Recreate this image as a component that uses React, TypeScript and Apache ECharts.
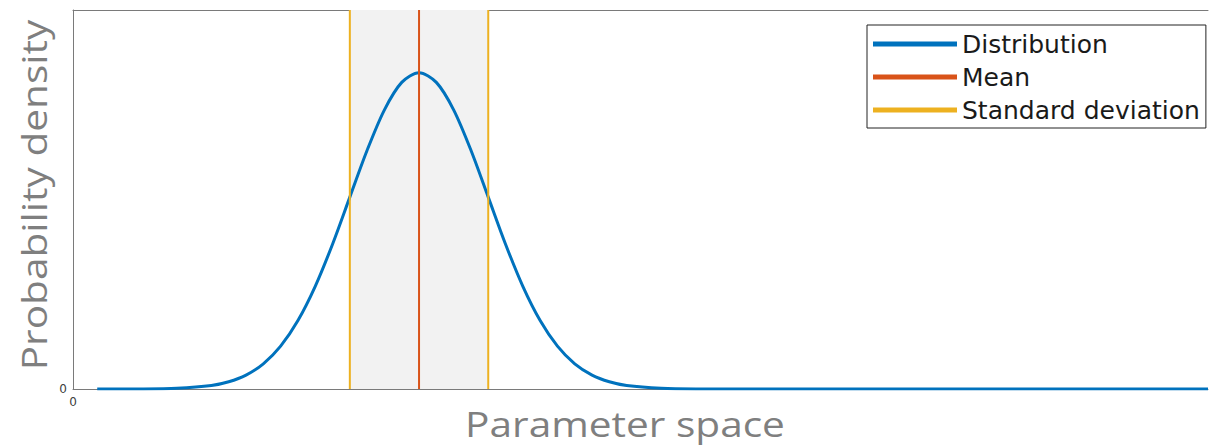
import React, { useEffect, useRef } from "react";
import * as echarts from "echarts";

// Parameter-space positions (in units of standard deviation) and the density
const distX = [0.35, 1, 1.5, 2, 2.25, 2.5, 2.75, 3, 3.25, 3.5, 3.75, 4, 4.25, 4.5, 4.75, 5,
  5.25, 5.5, 5.75, 6, 6.25, 6.5, 6.75, 7, 7.25, 7.5, 7.75, 8, 8.5, 9, 10, 12, 14, 16.4];
const distY = [0.0, 0.0001, 0.0009, 0.0044, 0.0091, 0.0175, 0.0317, 0.054, 0.0863, 0.1295, 0.1826, 0.242, 0.3011, 0.3521, 0.3867, 0.3989,
  0.3867, 0.3521, 0.3011, 0.242, 0.1826, 0.1295, 0.0863, 0.054, 0.0317, 0.0175, 0.0091, 0.0044, 0.0009, 0.0001, 0, 0, 0, 0];
const meanX = 5;
const stdLowX = 4;
const stdHighX = 6;
const xMin = 0;
const xMax = 16.4;
const yMin = 0;
const yMax = 0.478;
const legendNames = ["Distribution", "Mean", "Standard deviation"];
const xTitle = "Parameter space";
const yTitle = "Probability density";

export default function App() {
  const ref = useRef<HTMLDivElement>(null);
  useEffect(() => {
    const chart = echarts.init(ref.current!, null, { renderer: "svg" });
    const axisGray = "#7a7a7a";
    chart.setOption({
      animation: false,
      grid: { left: 73, top: 10, right: 0, bottom: 57, show: false },
      legend: {
        data: legendNames,
        orient: "vertical",
        left: 867, top: 25,
        icon: "rect",
        itemWidth: 84, itemHeight: 5,
        itemGap: 7,
        padding: [6, 6, 5, 6],
        align: "left",
        backgroundColor: "#ffffff",
        borderColor: "#222222", borderWidth: 1,
        textStyle: { fontFamily: "DejaVu Sans", fontSize: 25, color: "#1a1a1a", lineHeight: 26 },
      },
      xAxis: [
        {
          type: "value", min: xMin, max: xMax, interval: 100,
          axisLine: { show: true, onZero: false, lineStyle: { color: axisGray, width: 1 } },
          axisTick: { show: false },
          splitLine: { show: false },
          axisLabel: {
            formatter: (v: number) => (v === 0 ? "0" : ""),
            fontFamily: "DejaVu Sans", fontSize: 12, color: "#404040", margin: 7,
          },
        },
        {
          type: "value", position: "top", min: xMin, max: xMax, interval: 100,
          axisLine: { show: true, onZero: false, lineStyle: { color: axisGray, width: 1 } },
          axisTick: { show: false },
          splitLine: { show: false },
          axisLabel: { show: false },
        },
      ],
      yAxis: {
        type: "value", min: yMin, max: yMax, interval: 10,
        axisLine: { show: true, onZero: false, lineStyle: { color: axisGray, width: 1 } },
        axisTick: { show: false },
        splitLine: { show: false },
        axisLabel: {
          formatter: (v: number) => (v === 0 ? "0" : ""),
          fontFamily: "DejaVu Sans", fontSize: 12, color: "#404040", margin: 6,
        },
      },
      graphic: [
        {
          type: "text", x: 625, y: 423, scaleX: 1.16,
          style: { text: xTitle, font: "35px 'Open Sans'", fill: "#7f7f7f", align: "center", verticalAlign: "middle" },
        },
        {
          type: "text", x: 33, y: 195, rotation: Math.PI / 2, scaleX: 1.16,
          style: { text: yTitle, font: "35px 'Open Sans'", fill: "#7f7f7f", align: "center", verticalAlign: "middle" },
        },
      ],
      series: [
        {
          name: "Distribution", type: "line", z: 3,
          data: distX.map((x, i) => [x, distY[i]]),
          smooth: 0.3, symbol: "none",
          lineStyle: { color: "#0072BD", width: 3 },
          itemStyle: { color: "#0072BD" },
          markArea: {
            silent: true,
            itemStyle: { color: "#f2f2f2" },
            data: [[{ xAxis: stdLowX }, { xAxis: stdHighX }]],
          },
        },
        {
          name: "Mean", type: "line", z: 4,
          data: [[meanX, yMin], [meanX, yMax]], symbol: "none",
          lineStyle: { color: "#D95319", width: 2 },
          itemStyle: { color: "#D95319" },
        },
        {
          name: "Standard deviation", type: "line", z: 4,
          data: [[stdLowX, yMin], [stdLowX, yMax]], symbol: "none",
          lineStyle: { color: "#EDB120", width: 2 },
          itemStyle: { color: "#EDB120" },
        },
        {
          name: "Standard deviation", type: "line", z: 4,
          data: [[stdHighX, yMin], [stdHighX, yMax]], symbol: "none",
          lineStyle: { color: "#EDB120", width: 2 },
          itemStyle: { color: "#EDB120" },
        },
      ],
    });
    return () => chart.dispose();
  }, []);
  return (
    <div
      ref={ref}
      style={{ position: "fixed", left: 0, top: 0, width: 1211, height: 446, background: "#fff" }}
    />
  );
}
